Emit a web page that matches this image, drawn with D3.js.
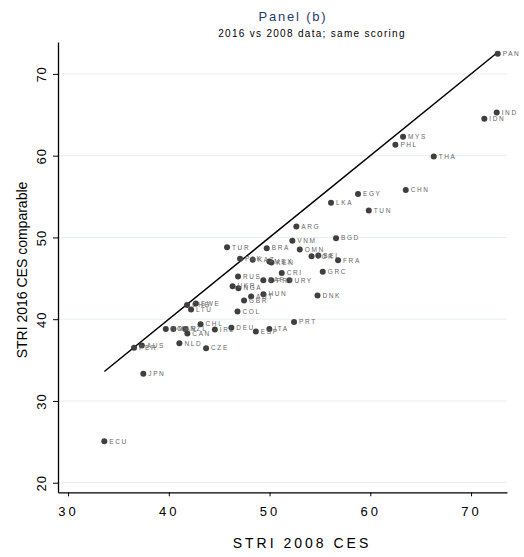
<!DOCTYPE html>
<html><head><meta charset="utf-8">
<script src="https://cdn.jsdelivr.net/npm/d3@7"></script>
<style>body{margin:0;background:#fff}</style>
</head><body>
<svg id="c" width="524" height="557"></svg>
<script>
const countries = ["PAN","IND","IDN","MYS","PHL","THA","CHN","EGY","LKA","TUN","ARG","VNM","BGD","BRA","OMN","TUR","PAK","KAZ","MEX","KEN","JOR","BEL","FRA","CRI","GRC","RUS","ZAF","PRY","URY","UKR","NGA","AUT","HUN","GBR","DNK","COL","PRT","DEU","ESP","ITA","IRL","CHL","CAN","NOR","MAR","NZL","CHE","SWE","LTU","PER","AUS","NLD","CZE","JPN","ECU"];
const stri2008 = [72.65,72.55,71.32,63.25,62.49,66.30,63.52,58.78,56.10,59.85,52.66,52.26,56.60,49.72,53.00,45.78,47.07,48.33,49.98,50.18,54.17,54.84,56.80,51.21,55.28,46.87,49.38,50.17,51.97,46.33,46.91,48.17,49.39,47.47,54.76,46.82,52.43,46.21,48.64,49.98,44.57,43.15,41.84,39.70,40.45,41.64,41.81,42.68,42.21,36.55,37.32,41.05,43.70,37.47,33.60];
const stri2016 = [72.47,65.29,64.52,62.31,61.33,59.90,55.79,55.30,54.24,53.29,51.33,49.58,49.91,48.69,48.52,48.79,47.38,47.26,47.05,46.93,47.69,47.78,47.20,45.64,45.79,45.21,44.77,44.75,44.75,44.04,43.79,42.79,43.06,42.30,42.89,40.95,39.65,38.94,38.51,38.81,38.75,39.39,38.24,38.81,38.79,38.81,41.75,41.93,41.18,36.52,36.79,37.06,36.45,33.34,25.07];
const xTicks = [30,40,50,60,70];
const yTicks = [20,30,40,50,60,70];
const title = "Panel (b)";
const subtitle = "2016 vs 2008 data; same scoring";
const xTitle = "STRI 2008 CES";
const yTitle = "STRI 2016 CES comparable";

const data = countries.map((c,i)=>({c, x:stri2008[i], y:stri2016[i]}));
const svg = d3.select("#c");
const L=58, R=507, T=42, B=492.3;
const x = d3.scaleLinear().domain([29.0,73.57]).range([L,R]);
const y = d3.scaleLinear().domain([18.83,73.9]).range([B,T]);

// gridlines
svg.append("g").selectAll("line").data(yTicks).join("line")
  .attr("x1",L).attr("x2",R).attr("y1",d=>y(d)).attr("y2",d=>y(d))
  .attr("stroke","#e6eef1").attr("stroke-width",1);

// axes
const xa = svg.append("g").attr("transform",`translate(0,${B})`)
  .call(d3.axisBottom(x).tickValues(xTicks).tickSize(4).tickPadding(8).tickSizeOuter(0));
xa.select(".domain").attr("stroke","#000").attr("stroke-width",1.3);
xa.selectAll("text").attr("font-family","Liberation Sans, Arial").attr("font-size",13).attr("letter-spacing","3px").attr("fill","#000").attr("dy","0.9em");
const ya = svg.append("g").attr("transform",`translate(${L},0)`)
  .call(d3.axisLeft(y).tickValues(yTicks).tickSize(5).tickPadding(6).tickSizeOuter(0));
ya.select(".domain").attr("stroke","#000").attr("stroke-width",1.3);
ya.selectAll("text").attr("font-family","Liberation Sans, Arial").attr("font-size",13).attr("fill","#000")
  .attr("text-anchor","middle").attr("letter-spacing","1px")
  .attr("x",-17).attr("y",0).attr("dy","0.35em")
  .attr("transform","rotate(-90,-17,0)");
svg.selectAll(".tick line").attr("stroke","#000");

// 45-degree line
const xmin = d3.min(stri2008), xmax = d3.max(stri2008);
svg.append("line").attr("x1",x(xmin)).attr("y1",y(xmin)).attr("x2",x(xmax)).attr("y2",y(xmax))
  .attr("stroke","#000").attr("stroke-width",1.5);

// points
svg.append("g").selectAll("circle").data(data).join("circle")
  .attr("cx",d=>x(d.x)).attr("cy",d=>y(d.y)).attr("r",3).attr("fill","#3f3f3f");
svg.append("g").selectAll("text").data(data).join("text")
  .attr("x",d=>x(d.x)+5).attr("y",d=>y(d.y)).attr("dy","0.35em")
  .attr("font-family","Liberation Sans, Arial").attr("font-size",6.5).attr("letter-spacing","1.6px")
  .attr("fill","#666").text(d=>d.c);

// titles
svg.append("text").attr("x",293).attr("y",21).attr("text-anchor","middle")
  .attr("font-family","Liberation Sans, Arial").attr("font-size",13).attr("letter-spacing","1.8px")
  .attr("fill","#1f3a6e").text(title);
svg.append("text").attr("x",312).attr("y",37).attr("text-anchor","middle")
  .attr("font-family","Liberation Sans, Arial").attr("font-size",10).attr("letter-spacing","1.3px")
  .attr("fill","#000").text(subtitle);
svg.append("text").attr("x",302).attr("y",548).attr("text-anchor","middle")
  .attr("font-family","Liberation Sans, Arial").attr("font-size",14).attr("letter-spacing","3px")
  .attr("fill","#000").text(xTitle);
svg.append("text").attr("transform","translate(27,270) rotate(-90)").attr("text-anchor","middle")
  .attr("font-family","Liberation Sans, Arial").attr("font-size",14)
  .attr("fill","#000").text(yTitle);
</script>
</body></html>
